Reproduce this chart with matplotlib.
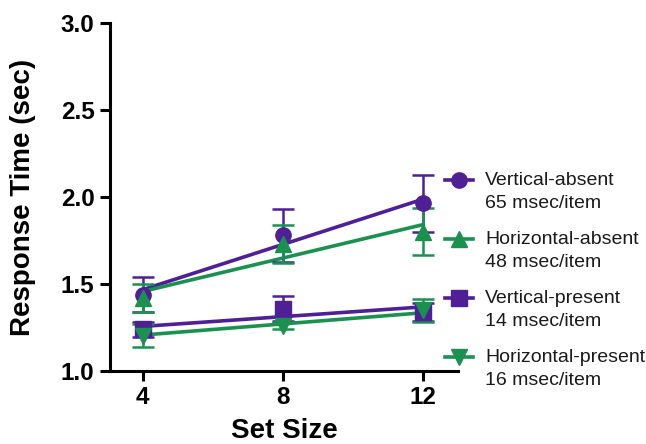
import numpy as np
import matplotlib
matplotlib.use("Agg")
import matplotlib.pyplot as plt
from matplotlib.lines import Line2D

plt.rcParams['font.family'] = ['Liberation Sans', 'DejaVu Sans']

set_size = [4, 8, 12]

vert_absent = [1.44, 1.78, 1.965]
vert_absent_err = [0.10, 0.15, 0.165]
horiz_absent = [1.42, 1.73, 1.80]
horiz_absent_err = [0.08, 0.11, 0.135]
vert_present = [1.24, 1.36, 1.34]
vert_present_err = [0.045, 0.07, 0.05]
horiz_present = [1.205, 1.26, 1.35]
horiz_present_err = [0.065, 0.02, 0.065]

# slopes in msec/item
slopes = [65, 48, 14, 16]
names = ['Vertical-absent', 'Horizontal-absent', 'Vertical-present', 'Horizontal-present']

purple = '#4F1F96'
green = '#1B9150'

series = [
    (vert_absent, vert_absent_err, purple, 'o'),
    (horiz_absent, horiz_absent_err, green, '^'),
    (vert_present, vert_present_err, purple, 's'),
    (horiz_present, horiz_present_err, green, 'v'),
]

fig = plt.figure(figsize=(6.46, 4.44), dpi=100)
ax = fig.add_axes([0.170, 0.164, 0.539, 0.784])

x = np.array(set_size, dtype=float)
for (y, err, col, mk), slope in zip(series, slopes):
    y = np.array(y)
    # fitted line with the reported slope through the mean point
    k = slope / 1000.0
    b = y.mean() - k * x.mean()
    ax.plot(x, k * x + b, color=col, lw=2.6, zorder=2)
    ax.errorbar(x, y, yerr=err, fmt=mk, color=col, ms=11, elinewidth=1.8,
                capsize=8, capthick=1.8, zorder=3)

ax.set_xlim(3.06, 13.0)
ax.set_ylim(1.0, 3.0)
ax.set_xticks(set_size)
ax.set_yticks([1.0, 1.5, 2.0, 2.5, 3.0])
ax.set_yticklabels(['1.0', '1.5', '2.0', '2.5', '3.0'])
for s in ['top', 'right']:
    ax.spines[s].set_visible(False)
for s in ['left', 'bottom']:
    ax.spines[s].set_linewidth(2.2)
ax.tick_params(width=2.2, length=7, labelsize=17.5, pad=4)
for lab in ax.get_xticklabels() + ax.get_yticklabels():
    lab.set_fontweight('bold')
ax.set_xlabel('Set Size', fontsize=20, fontweight='bold', labelpad=6)
ax.set_ylabel('Response Time (sec)', fontsize=20, fontweight='bold', labelpad=18)

# legend drawn by hand so each marker sits beside the first text line
W, H = 646, 444
y0 = 180
step = 59
for i, ((y, err, col, mk), slope, name) in enumerate(zip(series, slopes, names)):
    yy = 1 - (y0 + i * step) / H
    fig.add_artist(Line2D([445 / W, 473 / W], [yy, yy], color=col, lw=2.6,
                          transform=fig.transFigure))
    fig.add_artist(Line2D([459 / W], [yy], marker=mk, ms=11, color=col,
                          transform=fig.transFigure))
    fig.text(485 / W, yy, name, fontsize=14, va='center', ha='left', color='#1a1a1a')
    fig.text(485 / W, yy - 23 / H, f'{slope} msec/item', fontsize=14,
             va='center', ha='left', color='#1a1a1a')

fig.savefig('out.png', dpi=100)
